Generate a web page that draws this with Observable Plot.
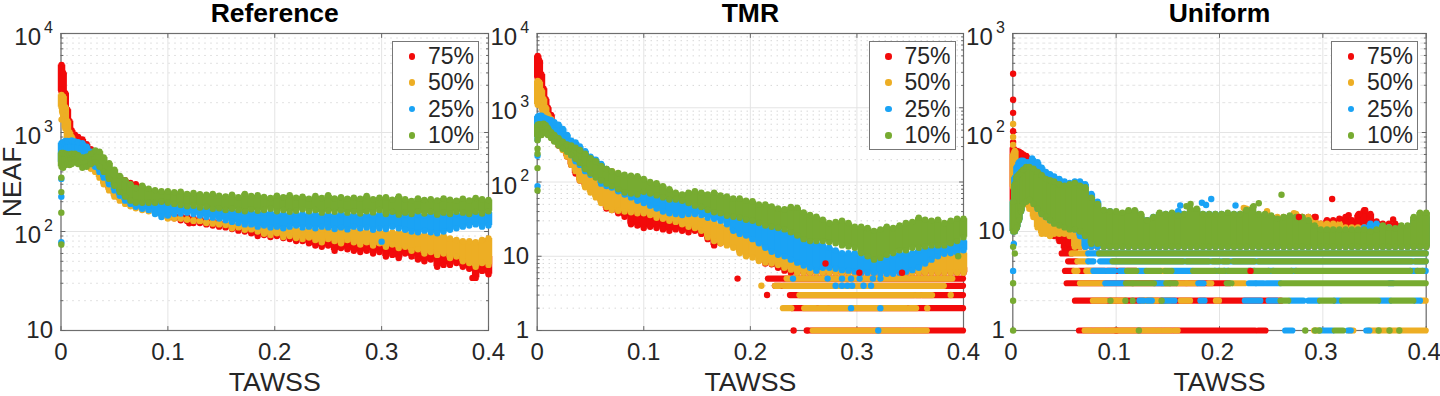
<!DOCTYPE html>
<html><head><meta charset="utf-8">
<script src="https://cdn.jsdelivr.net/npm/d3@7"></script>
<script src="https://cdn.jsdelivr.net/npm/@observablehq/plot@0.6"></script>
<style>
html,body{margin:0;padding:0;background:#fff;width:1440px;height:396px;overflow:hidden}
#chart{position:relative;width:1440px;height:396px;font-family:"Liberation Sans",Arial,sans-serif}
#chart svg{position:absolute;top:0;overflow:visible;background:transparent}
.legend{position:absolute;top:41px;width:85px;height:107px;background:#fff;border:1px solid #777;color:#262626;font-size:23px;box-sizing:content-box}
.legend div{position:absolute;left:35px;line-height:26px;height:26px}
.legend i{position:absolute;left:-19.5px;top:10px;width:6.5px;height:6.5px;border-radius:50%}
</style></head><body><div id="chart"></div>
<script>
const labels = ["75%","50%","25%","10%"];
const colors = ["#f20a0a","#edae24","#1aa3f5","#77ab31"];
const xTicks = [0,0.1,0.2,0.3,0.4];
const tawss = [0.0005,0.002,0.004,0.006,0.008,0.01,0.013,0.016,0.02,0.024,0.028,0.032,0.036,0.04,0.045,0.05,0.055,0.06,0.065,0.07,0.076,0.082,0.088,0.094,
0.1,0.106,0.112,0.118,0.124,0.13,0.136,0.142,0.148,0.154,0.16,0.166,0.172,0.178,0.184,0.19,0.196,0.202,0.208,0.214,0.22,0.226,0.232,0.238,0.244,0.25,0.256,0.262,0.268,0.274,0.28,0.286,0.292,0.298,0.304,0.31,0.316,0.322,0.328,0.334,0.34,0.346,0.352,0.358,0.364,0.37,0.376,0.382,0.388,0.394,0.4];

// Reference panel: top and bottom of each series' cloud per TAWSS column
const ref75Hi = [4800,4000,2500,1700,1300,1050,950,900,850,760,680,600,540,500,430,390,350,330,310,300,270,240,225,205,
150,148,145,140,136,134,130,128,125,120,118,115,112,110,108,105,102,100,98,96,94,92,90,88,86,85,84,82,82,80,78,78,76,76,74,74,72,72,70,70,66,66,64,62,62,60,58,56,56,54,56];
const ref75Lo = [2600,2000,1400,1050,900,800,700,600,540,500,460,420,380,330,270,235,215,200,190,180,175,170,165,155,
138,136,130,128,122,122,118,115,112,110,106,102,100,96,90,92,88,90,86,84,80,80,76,72,70,72,64,68,66,64,62,64,60,62,56,58,54,60,56,52,50,52,44,46,46,48,44,42,34,40,37];
const ref50Hi = [2400,2300,1800,1300,1000,900,800,700,620,560,520,480,440,400,340,300,260,240,225,215,205,195,185,175,
135,135,135,132,130,128,125,125,122,120,118,115,115,112,110,110,110,108,106,106,106,104,104,104,104,104,104,104,102,102,102,100,100,100,98,98,98,96,96,94,92,92,90,90,85,82,80,80,78,82,85];
const ref50Lo = [1800,1500,1100,850,760,640,560,530,490,460,430,400,350,300,260,225,205,190,180,172,165,160,155,150,
142,140,135,132,128,128,122,120,118,116,108,110,104,105,100,95,92,96,88,90,86,84,87,82,78,84,80,76,82,78,74,78,72,76,70,74,68,70,64,66,60,62,58,60,54,56,50,48,44,48,46];
const ref25Hi = [780,800,820,820,810,830,810,800,780,720,640,580,520,470,420,360,320,290,270,250,240,225,210,190,
190,188,185,180,175,175,170,168,170,165,162,160,160,158,155,155,155,152,150,150,150,150,148,150,148,148,148,150,148,146,145,148,146,150,145,150,145,148,150,148,145,150,148,150,148,150,150,152,150,152,155];
const ref25Lo = [500,560,560,600,600,580,580,560,520,500,480,450,400,350,300,260,230,205,190,178,170,165,150,140,
145,150,152,155,150,145,140,138,135,130,125,122,118,118,112,115,110,112,108,112,115,110,112,108,112,110,106,110,105,112,108,110,104,108,106,112,108,104,100,98,102,98,96,100,104,108,112,115,118,112,115];
const ref10Hi = [620,620,610,600,600,610,610,590,560,570,610,660,640,560,490,420,365,330,300,275,290,270,262,255,
255,250,252,240,245,238,235,240,230,226,235,222,240,228,232,224,218,230,222,232,220,225,214,228,218,232,216,222,214,220,215,228,212,220,222,210,226,212,204,216,208,212,206,216,210,205,214,206,218,212,208];
const ref10Lo = [450,440,470,480,470,480,500,480,440,450,480,500,450,400,340,290,250,225,205,195,195,195,195,200,
195,190,185,180,182,175,178,170,172,165,170,165,160,168,162,165,170,160,165,158,162,168,160,165,155,162,158,164,155,160,152,160,156,165,150,158,148,155,150,160,152,158,148,155,150,158,155,150,158,152,160];
const refDots75 = [[0.0003,2700],[0.12,121],[0.385,34]];
const refDots50 = [[0.0005,1350],[0.001,1650]];
const refDots25 = [[0.0003,78],[0.0003,225],[0.0003,340],[0.3,79]];
const refDots10 = [[0.0003,74],[0.0003,155],[0.0003,250],[0.0003,350]];

// TMR panel
const tmr75Hi = [5000,4300,2800,1800,1300,1000,800,620,500,410,340,290,250,220,190,165,145,125,105,95,80,70,60,52,
36,34,33,32,31,29,28,27,25,24,21,20,19,18,17,15,14,13,12,11,10,9,8,8,7,7,7,7,7,7,7,7,7,7,7,7,7,7,7,7,7,7,7,7,7,7,7,7,7,7,7];
const tmr75Lo = [2500,1700,1100,820,600,500,420,360,310,280,220,170,130,105,90,78,68,55,44,42,38,34,27,26,
24,25,24,23,22,23,22,21,22,20,17,14,15,16,14,12,11,11,10,8,7.8,7,6.4,6,6,6,6,6,6,6,6,6,6,6,6,6,6,6,6,6,6,6,6,6,6,6,6,6,6,6,6];
const tmr50Hi = [2300,2200,1700,1300,1000,800,700,600,520,430,380,340,290,260,235,210,190,170,150,140,120,110,95,85,
52,50,46,44,42,40,38,36,34,32,30,28,26,25,24,22,20,18,17,16,15,14,13,12,11,10,9.5,9,8.8,8.6,8.4,8.2,8,8,8,8,8,8,8,8,8,8,8.2,8.5,9,9.5,10,10.5,11,11,11];
const tmr50Lo = [1100,1300,1000,750,620,520,460,380,320,270,220,170,140,105,85,72,62,52,46,42,41,40,39,38,
38,36,33,32,30,29,27,25,24,22,18,16,15,14,13,11,10,9.6,8.6,8.2,8,7.6,7,6.6,6,6,6,6,6,6,6,6,6,6,6,6,6,6,6,6,6,6,6,6,6,6,6,6,6,6,6];
const tmr25Hi = [760,780,780,740,720,700,680,640,590,520,430,360,340,300,260,220,200,175,150,130,115,105,95,90,
85,78,72,66,62,60,58,56,54,50,46,44,42,40,38,36,34,32,30,28,26,24,22,20,19,18,16,15,14,13,12,11,11,11,10,10,10,10,10,10,11,11,11,12,13,13,14,14,15,15,16];
const tmr25Lo = [400,500,500,550,540,520,520,490,430,370,290,230,190,170,140,125,120,95,88,84,75,68,62,56,
52,48,44,40,38,37,36,37,37,36,33,32,30,27,22,20,19,17,15,13,11.5,10.5,10,9,8.2,7.5,7,6.4,7,7,6.8,6.5,6.4,6.2,6,6,6,5.8,5.8,5.8,6,6.2,6.5,7,8,9,10,10.8,11,11,12];
const tmr10Hi = [590,600,590,610,580,530,470,430,390,350,320,310,290,270,240,210,190,165,150,140,132,125,122,120,
110,100,96,88,80,72,68,72,75,72,68,72,66,64,60,60,56,55,50,50,47,44,43,46,45,39,36,34,31,28,29,30,28,25,25,24,22,23,25,24,26,28,29,33,31,30,31,28,30,32,32];
const tmr10Lo = [400,430,430,460,460,430,390,350,310,280,255,230,205,180,150,130,115,105,95,88,80,72,70,68,
74,70,66,62,58,58,56,52,48,46,42,39,38,35,34,33,31,30,28,26,25,24,23,21,19,17,16,16,16,15.5,15,14,13.5,13,11,10,9,9.5,10.5,11,12,12,13,13,13.5,14,14,14,15,16,18];
const tmrRows75 = [[1,0.255,0.4],[2,0.24,0.4],[3,0.2376,0.4],[4,0.2235,0.4],[5,0.217,0.4]];
const tmrRows50 = [[1,0.259,0.3125],[1,0.316,0.341],[1,0.344,0.353],[1,0.356,0.366],
[2,0.231,0.239],[2,0.251,0.262],[2,0.265,0.2725],[2,0.275,0.347],[2,0.35,0.356],
[3,0.2465,0.354],[3,0.356,0.36],[3,0.362,0.371],[4,0.2235,0.2282],[4,0.2315,0.382],[5,0.2345,0.39]];
const tmrDots75 = [[0.2406,1],[0.253,1],[0.2157,3],[0.188,5]];
const tmrDots50 = [[0.0005,1200],[0.366,2],[0.388,3],[0.2104,4]];
const tmrDots25 = [[0.0003,88],[0.0003,225],[0.0003,370],[0.32,1],[0.2945,2],[0.322,2],[0.28,4],[0.286,4],[0.291,4],[0.2955,4],[0.3062,4],[0.3133,4],[0.24,5],[0.2725,5],[0.286,5],[0.2945,5],[0.3025,5],[0.315,5],[0.322,5]];
const tmrDots10 = [[0.0003,77],[0.0003,154],[0.0003,240],[0.0003,280],[0.0003,365],[0.395,10]];
const tmrDotsTop = [[0.2705,8],[0.3023,6],[0.3423,6]];

// Uniform panel
const uni75Hi = [70,65,65,64,62,60,58,52,45,38,32,28,26,24,20,16,14,12,11,10,9,8,8,8,
9,10,10,10,10,10,10,10,10,10,10,10,10,10,10,10,10,10,10,10,10,10,10,10,10,10,11,11,12,13,14,14,14,12,13,13,13,14,13,14.6,16.4,15,12.6,12,12,12,11,11,10,10,10];
const uni75Lo = [20,25,28,30,38,45,40,35,30,24,18,14,11,9,8,6.7,6.5,6.5,7,7,7,7,7,7,
7,7,7,7,7,7,7,7,7,7,7,7,7,7,7,7,7,7,7,7,7,7,7,7,7,7,7,7,7,7,7,7,7,7,7,7,7,7,7,7,7,7,7,7,7,7,7,7,7,7,7];
const uni50Hi = [60,65,45,42,40,38,38,36,35,33,30,28,26,24,22,20,18,16,14,12,10,9,9,9,
12,13,13,13,13,13,12,13,13,14,13,13,14,14,13,13,13,13,14,14,15,17,15,14,14,14,14,14,14,15,14,14,13,12,12,12,12,11,11,11,11,11,11,11,11,10,10,11,12,12,12];
const uni50Lo = [28,20,15,15,18,21,19,17,14,11,9.5,9.5,9,9.5,9.5,9.5,9,7,7,7,7,7,7,7,
7,7,7,7,7,7,7,7,7,7,7,7,7,7,7,7,7,7,7,7,7,7,7,7,7,7,7,7,7,7,7,7,7,7,7,7,7,7,7,7,7,7,7,7,7,7,7,7,7,7,7];
const uni25Hi = [20,35,45,50,52,52,50,50,52,50,44,40,38,36,34,32,31,32,32,30,24,20,16,16,
15,15,16,16,14,13,14,15,15,15,16,15,16,16,15,15,15,15,15,15,15,15,16,14,14,14,13,13,14,13,12,12,11,10,10,10,10,10,10,10,11,12,12,11,11,10,10,11,13,14,14];
const uni25Lo = [10,10,11,13,16,20,21,21,20,17,15,14,13,13,13,12,11,10.5,9,7,7,7,7,7,
7,7,7,7,7,7,7,7,7,7,7,7,7,7,7,7,7,7,7,7,7,7,7,7,7,7,7,7,7,7,7,7,7,7,7,7,7,7,7,7,7,7,7,7,7,7,7,7,7,7,7];
const uni10Hi = [20,30,36,38,40,42,45,45,43,40,37,34,33,32,30,29,30,31,29,28,22,19,16.5,16,
16,15.5,16.4,16.4,15,13,14,15.5,15,15.5,14.5,15,17,17,15,15,15,15,15.5,15,15,16.5,17.5,15,15,14.5,13.5,14,14.5,14,14,13,11.5,10.5,10.5,10.5,10.5,10.5,10.5,10.5,10.5,10,10.5,11.5,11,10.8,11.5,11.5,14,15.5,15.5];
const uni10Lo = [10,10,11,13,16,19,20,21,19,17,15,14,13,12,11.5,11,10.5,10.5,10,9,7.5,7.5,7,7,
7,7,7,7,7,7,7,7,7,7,7,7,7,7,7,7,7,7,7,7,7,7,7,7,7,7,7,7,7,7,7,7,7,7,7,7,7,7,7,7,7,7,7,7,7,7,7,7,7,7,7];
const uniRows75 = [[1,0.0645,0.235],[1,0.238,0.245],[2,0.0606,0.26],[3,0.0526,0.21],[4,0.051,0.059],[4,0.0645,0.12],[5,0.054,0.062],[6,0.0478,0.0574]];
const uniRows50 = [[1,0.07,0.076],[1,0.08,0.09],[1,0.093,0.1185],[1,0.1267,0.138],[1,0.141,0.144],[1,0.1475,0.153],[1,0.157,0.16],[1,0.292,0.295],[1,0.326,0.33],[1,0.3445,0.4],
[2,0.078,0.09],[2,0.097,0.102],[2,0.105,0.108],[2,0.126,0.14],[2,0.15,0.152],[2,0.163,0.172],[2,0.197,0.2],[2,0.396,0.4],
[3,0.0655,0.088],[3,0.145,0.15],[3,0.16,0.168],[3,0.169,0.178],[3,0.19,0.1925],[3,0.214,0.225],
[4,0.06,0.063],[4,0.0716,0.0775],[4,0.144,0.147],[5,0.063,0.073],[6,0.0574,0.072]];
const uniRows25 = [[1,0.264,0.271],[1,0.2978,0.31],[1,0.3245,0.3275],[1,0.3425,0.3455],
[2,0.123,0.127],[2,0.131,0.135],[2,0.145,0.157],[2,0.182,0.186],[2,0.225,0.24],[2,0.248,0.256],[2,0.2687,0.2816],[2,0.2865,0.296],[2,0.312,0.317],[2,0.356,0.3655],[2,0.39,0.3945],
[3,0.09,0.107],[3,0.138,0.146],[3,0.18,0.185],[3,0.229,0.235],[3,0.2365,0.243],[3,0.246,0.259],[3,0.365,0.368],
[4,0.0785,0.089],[4,0.0923,0.0987],[4,0.104,0.109],[4,0.122,0.129],[4,0.155,0.174],[4,0.196,0.2],[4,0.205,0.209],[4,0.229,0.234],[4,0.248,0.2525],[4,0.27,0.2745],[4,0.385,0.392],[4,0.397,0.4],
[5,0.0735,0.0785],[5,0.085,0.4],[6,0.0735,0.4]];
const uniRows10 = [[1,0.312,0.32],[2,0.2595,0.267],[2,0.2978,0.3107],[2,0.319,0.354],[2,0.367,0.388],
[3,0.11,0.116],[3,0.117,0.137],[3,0.149,0.152],[3,0.153,0.158],[3,0.2075,0.212],[3,0.26,0.4],
[4,0.111,0.12],[4,0.13,0.143],[4,0.148,0.154],[4,0.175,0.196],[4,0.2,0.205],[4,0.209,0.229],[4,0.234,0.248],[4,0.2525,0.27],[4,0.2745,0.385],[4,0.392,0.397],
[5,0.097,0.165],[5,0.169,0.19],[5,0.194,0.2],[5,0.204,0.209],[5,0.214,0.234],[5,0.2385,0.386],[5,0.39,0.4],[6,0.084,0.4]];
const uniDots75 = [[0.0003,392],[0.0003,214],[0.0003,158],[0.0003,103],[0.0003,80],[0.0278,11],[0.1,1]];
const uniDots50 = [[0.0003,122],[0.0003,90],[0.0003,75],[0.2235,17.3],[0.272,15.3],[0.246,16]];
const uniDots25 = [[0.0003,4],[0.0003,12],[0.001,7.5],[0.162,18.3],[0.183,19.5],[0.187,18.5],[0.192,21.3],[0.2155,18.3],[0.0187,54.6],[0.0268,44]];
const uniDots10 = [[0.0003,1],[0.0003,2],[0.0003,3],[0.002,6],[0.0003,7],[0.122,1],[0.0945,2],[0.109,2],[0.116,2],[0.144,2],[0.26,23.5],[0.238,19.3],[0.172,19],[0.168,18],[0.283,1],[0.2925,1],[0.2965,1],[0.354,1],[0.3645,1],[0.374,1],[0.233,18]];
const uniDotsTop = [[0.309,21.3],[0.23,4],[0.368,13.2],[0.2768,14],[0.293,14],[0.325,14.6],[0.341,16.4],[0.335,15],[0.316,13.5]];

const panels = [
 {title:"Reference",left:0,width:490,mL:60.5,mR:2,domain:[10,1e4],
  exps:[[1e4,"4"],[1e3,"3"],[1e2,"2"]],plain:[10],dash:"1 5",minor:"#c4c4c4",label:"NEAF",tickDx:0,
  hi:[ref75Hi,ref50Hi,ref25Hi,ref10Hi],lo:[ref75Lo,ref50Lo,ref25Lo,ref10Lo],
  rows:[[],[],[],[]],dots:[refDots75,refDots50,refDots25,refDots10],top:[],
  legend:392},
 {title:"TMR",left:490,width:475,mL:46.7,mR:2,domain:[1,1e4],
  exps:[[1e4,"4"],[1e3,"3"],[1e2,"2"]],plain:[10,1],dash:"1 5",minor:"#c4c4c4",tickDx:0,
  hi:[tmr75Hi,tmr50Hi,tmr25Hi,tmr10Hi],lo:[tmr75Lo,tmr50Lo,tmr25Lo,tmr10Lo],
  rows:[tmrRows75,tmrRows50,[],[]],dots:[tmrDots75,tmrDots50,tmrDots25,tmrDots10],top:tmrDotsTop,
  legend:868.5},
 {title:"Uniform",left:965,width:475,mL:47.3,mR:14.3,domain:[1,1e3],
  exps:[[1e3,"3"],[1e2,"2"]],plain:[10,1],dash:"3 3",minor:"#e2e2e2",tickDx:-2,
  hi:[uni75Hi,uni50Hi,uni25Hi,uni10Hi],lo:[uni75Lo,uni50Lo,uni25Lo,uni10Lo],
  rows:[uniRows75,uniRows50,uniRows25,uniRows10],dots:[uniDots75,uniDots50,uniDots25,uniDots10],top:uniDotsTop,
  legend:1331}
];

const tickShape = {draw(ctx,l){ctx.moveTo(0,0);ctx.lineTo(0,-l);}};
const R = 3.2;

function seriesMarks(p,s){
  const c = colors[s], hi = p.hi[s], lo = p.lo[s], idx = d3.range(tawss.length);
  return [
    Plot.ruleX(idx,{x:i=>tawss[i],y1:i=>lo[i],y2:i=>hi[i],stroke:c,strokeWidth:7.5}),
    Plot.dot(idx,{x:i=>tawss[i],y:i=>hi[i],r:R,fill:c}),
    Plot.dot(idx,{x:i=>tawss[i],y:i=>lo[i],r:R,fill:c}),
    Plot.ruleY(p.rows[s],{y:d=>d[0],x1:d=>d[1],x2:d=>d[2],stroke:c,strokeWidth:6.2,strokeLinecap:"round"}),
    Plot.dot(p.dots[s],{x:d=>d[0],y:d=>d[1],r:R,fill:c})
  ];
}

function panel(p){
  const [yMin,yMax] = p.domain;
  const decades = d3.range(Math.log10(yMin),Math.log10(yMax)+1).map(e=>Math.pow(10,e));
  const minors = decades.slice(0,-1).flatMap(d=>[2,3,4,5,6,7,8,9].map(m=>m*d));
  const frameTick = (data,channel,anchor,rotate,length)=>Plot.vector(data,{[channel]:d=>d,frameAnchor:anchor,rotate,length,anchor:"start",shape:tickShape,stroke:"#666",strokeWidth:1});
  const marks = [
    Plot.ruleY(minors,{stroke:p.minor,strokeDasharray:p.dash,strokeWidth:1}),
    Plot.ruleY(decades,{stroke:"#e4e4e4"}),
    Plot.ruleX(xTicks,{stroke:"#e4e4e4"}),
    Plot.frame({stroke:"#6e6e6e",strokeWidth:1.2}),
    frameTick(xTicks,"x","bottom",0,4),frameTick(xTicks,"x","top",180,4),
    frameTick(decades,"y","left",90,4),frameTick(decades,"y","right",-90,4),
    frameTick(minors,"y","left",90,2),frameTick(minors,"y","right",-90,2),
    ...[0,1,2,3].flatMap(s=>seriesMarks(p,s)),
    Plot.dot(p.top,{x:d=>d[0],y:d=>d[1],r:R,fill:colors[0]}),
    Plot.axisX({ticks:xTicks,tickSize:0,tickPadding:12.5,dx:p.tickDx,fontSize:24,tickFormat:d=>String(d),label:null}),
    Plot.axisY({ticks:p.plain,tickSize:0,tickPadding:8,fontSize:24,tickFormat:d=>String(d),label:null}),
    Plot.axisY({ticks:p.exps.map(d=>d[0]),tickSize:0,tickPadding:20,dy:4,fontSize:24,tickFormat:()=>"10",label:null}),
    Plot.axisY({ticks:p.exps.map(d=>d[0]),tickSize:0,tickPadding:8,dy:-6,fontSize:16,tickFormat:d=>String(Math.round(Math.log10(d))),label:null}),
    Plot.text([p.title],{frameAnchor:"top",dy:-20,lineAnchor:"middle",text:d=>d,fontSize:26.5,fontWeight:"bold",fill:"#000"}),
    Plot.text(["TAWSS"],{frameAnchor:"bottom",dy:52,lineAnchor:"middle",text:d=>d,fontSize:26.7,fill:"#262626"})
  ];
  if(p.label) marks.push(Plot.text([p.label],{frameAnchor:"left",dx:-48,rotate:-90,textAnchor:"middle",lineAnchor:"middle",text:d=>d,fontSize:26.5,fill:"#262626"}));
  const svg = Plot.plot({
    width:p.width,height:396,marginLeft:p.mL,marginRight:p.mR,marginTop:33,marginBottom:66,
    style:{fontFamily:'"Liberation Sans",Arial,sans-serif',color:"#262626",background:"transparent",overflow:"visible"},
    x:{domain:[0,0.4]},y:{type:"log",domain:p.domain},marks
  });
  svg.style.left = p.left+"px";
  document.getElementById("chart").appendChild(svg);
  const lg = document.createElement("div");
  lg.className = "legend"; lg.style.left = p.legend+"px";
  lg.innerHTML = labels.map((t,i)=>`<div style="top:${i*26.4+1}px"><i style="background:${colors[i]}"></i>${t}</div>`).join("");
  document.getElementById("chart").appendChild(lg);
}
panels.forEach(panel);
</script></body></html>
